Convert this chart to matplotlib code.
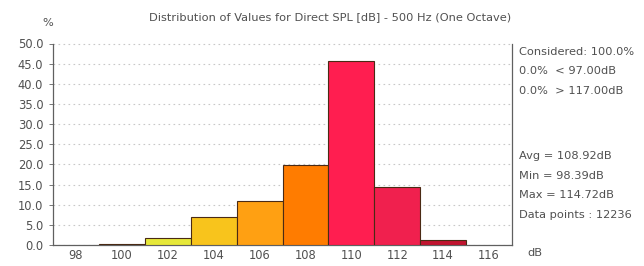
import matplotlib
matplotlib.use("Agg")
import matplotlib.pyplot as plt

bin_centers = [100, 102, 104, 106, 108, 110, 112, 114]
percent = [0.2, 1.7, 6.9, 10.9, 19.9, 45.6, 14.3, 1.2]
bar_colors = ["#303030", "#e6e83a", "#f8c41c", "#ffa012", "#ff7c00", "#ff1e50", "#f0204e", "#c01430"]
xtick_vals = [98, 100, 102, 104, 106, 108, 110, 112, 114, 116]
ytick_vals = [0, 5, 10, 15, 20, 25, 30, 35, 40, 45, 50]
title = "Distribution of Values for Direct SPL [dB] - 500 Hz (One Octave)"
info_top = ["Considered: 100.0%", "0.0%  < 97.00dB", "0.0%  > 117.00dB"]
info_bottom = ["Avg = 108.92dB", "Min = 98.39dB", "Max = 114.72dB", "Data points : 12236"]

plt.rcParams['font.family'] = ['DejaVu Sans']
fig = plt.figure(figsize=(6.44, 2.66), dpi=100)
W, H = 644, 266
ax = fig.add_axes([53 / W, 1 - 245 / H, (512 - 53) / W, (245 - 43.5) / H])

ax.bar(bin_centers, percent, width=2, color=bar_colors, edgecolor="#4a2a14", linewidth=0.8, zorder=3)
ax.set_xlim(97, 117)
ax.set_ylim(0, 50)
ax.set_yticks(ytick_vals)
ax.set_yticklabels([f"{v:.1f}" for v in ytick_vals])
ax.set_xticks(xtick_vals)
ax.set_xticklabels([str(v) for v in xtick_vals])
ax.tick_params(axis='both', labelsize=8.3, colors="#606060", labelcolor="#505050", length=3, width=0.6)
ax.tick_params(axis='y', pad=4)
ax.tick_params(axis='x', length=0, pad=3)
ax.grid(axis='y', linestyle=(0, (1.5, 3)), color="#c8c8c8", linewidth=0.8, zorder=0)
for s in ["left", "bottom", "right"]:
    ax.spines[s].set_color("#606060")
    ax.spines[s].set_linewidth(0.9)
ax.spines["top"].set_visible(False)

fs = 8.2
fig.text(330 / W, 1 - 17 / H, title, ha="center", va="center", fontsize=fs, color="#505050")
fig.text(48 / W, 1 - 23 / H, "%", ha="center", va="center", fontsize=fs, color="#505050")
fig.text(535 / W, 1 - 253 / H, "dB", ha="center", va="center", fontsize=fs, color="#505050")
for i, t in enumerate(info_top):
    fig.text(519 / W, 1 - (52 + 19.5 * i) / H, t, ha="left", va="center", fontsize=fs, color="#505050")
for i, t in enumerate(info_bottom):
    fig.text(519 / W, 1 - (156 + 19.6 * i) / H, t, ha="left", va="center", fontsize=fs, color="#505050")

fig.savefig("out.png", dpi=100)
